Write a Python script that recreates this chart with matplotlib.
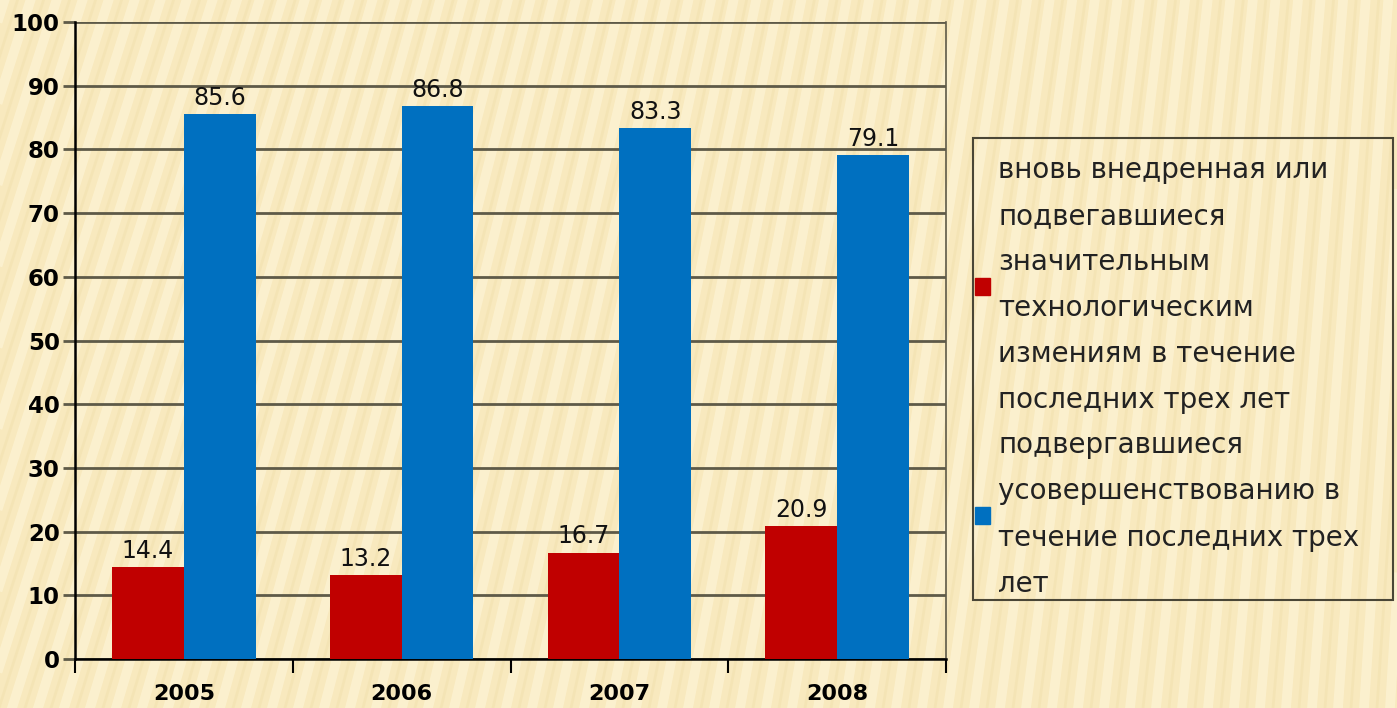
import matplotlib.pyplot as plt
from matplotlib.lines import Line2D
from matplotlib.patches import Patch, Rectangle
import numpy as np

years = ['2005', '2006', '2007', '2008']
new_tech = [14.4, 13.2, 16.7, 20.9]
improved = [85.6, 86.8, 83.3, 79.1]
label_new = ('вновь внедренная или\nподвегавшиеся\nзначительным\nтехнологическим\n'
             'измениям в течение\nпоследних трех лет')
label_imp = 'подвергавшиеся\nусовершенствованию в\nтечение последних трех\nлет'

red = '#C00000'
blue = '#0070C0'
grid_col = '#5e5a48'

W, H = 1397, 708
fig = plt.figure(figsize=(W / 100, H / 100), dpi=100)
fig.patch.set_facecolor('#F8E9BE')

# striped paper background
for x0 in np.arange(-300, W + 60, 26):
    frac = min(max(x0 / W, 0), 1)
    slope = 0.32 - 0.26 * frac
    xs = [x0 / W, (x0 + slope * H) / W]
    fig.add_artist(Line2D(xs, [0, 1], transform=fig.transFigure,
                          color='#FFF7DC', lw=7, alpha=0.55, zorder=-10))
    xs2 = [(x0 + 13) / W, (x0 + 13 + slope * H) / W]
    fig.add_artist(Line2D(xs2, [0, 1], transform=fig.transFigure,
                          color='#EEDCA6', lw=2, alpha=0.35, zorder=-10))

ax = fig.add_axes([75 / W, 1 - 659 / H, 871 / W, 637 / H])
ax.set_facecolor('none')

x = np.arange(len(years))
w = 0.33
b1 = ax.bar(x - w / 2, new_tech, w, color=red, label=label_new, zorder=3)
b2 = ax.bar(x + w / 2, improved, w, color=blue, label=label_imp, zorder=3)

for bars in (b1, b2):
    for r in bars:
        ax.annotate(f'{r.get_height():.1f}', (r.get_x() + r.get_width() / 2, r.get_height()),
                    xytext=(0, 3), textcoords='offset points', ha='center', va='bottom',
                    fontsize=17, color='#111111')

ax.set_xlim(-0.5, 3.5)
ax.set_ylim(0, 100)
ax.set_yticks(range(0, 101, 10))
ax.set_xticks(x)
ax.set_xticklabels(years)
ax.set_xticks(np.arange(-0.5, 3.6, 1), minor=True)
ax.tick_params(axis='x', which='major', length=0, pad=18, labelsize=16)
ax.tick_params(axis='x', which='minor', length=10, width=1.5, color='black')
ax.tick_params(axis='y', length=9, width=2, color=grid_col, pad=2, labelsize=16.5)
for t in ax.get_xticklabels() + ax.get_yticklabels():
    t.set_fontweight('bold')

ax.yaxis.grid(True, color=grid_col, lw=2, zorder=1)
ax.set_axisbelow(True)
ax.spines['left'].set_linewidth(1.8)
ax.spines['bottom'].set_linewidth(1.8)
ax.spines['top'].set_visible(False)
ax.spines['right'].set_color(grid_col)
ax.spines['right'].set_linewidth(1.2)

# legend box frame drawn separately for tighter control of padding
fig.add_artist(Rectangle((973 / W, 1 - 600 / H), 420 / W, 462 / H, transform=fig.transFigure,
                         fill=False, edgecolor='#4a4636', lw=1.5))

handles = [Patch(color=red), Patch(color=blue)]
leg = fig.legend(handles, [label_new, label_imp], loc='upper left',
                 bbox_to_anchor=(975 / W, 1 - 156 / H), bbox_transform=fig.transFigure,
                 frameon=False, prop={'family': 'DejaVu Sans', 'size': 20},
                 handlelength=0.55, handleheight=0.55, handletextpad=0.28,
                 borderpad=0, borderaxespad=0, labelspacing=0.62)
for t in leg.get_texts():
    t.set_linespacing(1.82)
    t.set_color('#222222')

fig.savefig('out.png', dpi=100, facecolor=fig.get_facecolor())
